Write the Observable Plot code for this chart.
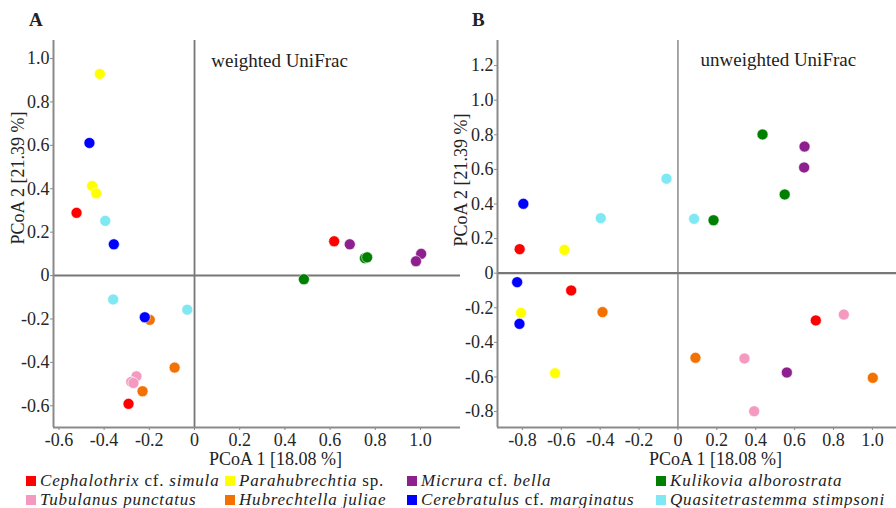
<!DOCTYPE html>
<html>
<head>
<meta charset="utf-8">
<script src="https://cdn.jsdelivr.net/npm/d3@7"></script>
<script src="https://cdn.jsdelivr.net/npm/@observablehq/plot@0.6"></script>
<style>
  html, body { margin: 0; padding: 0; background: #fff; }
  #fig { position: relative; width: 896px; height: 508px; overflow: hidden; background: #fff;
         font-family: "Liberation Serif", "DejaVu Serif", serif; color: #222; }
  .abs { position: absolute; white-space: nowrap; line-height: 14px; font-size: 18px; }
  .leg { font-size: 17px; letter-spacing: 0.8px; }
  .sw { position: absolute; width: 10px; height: 10px; }
  .panel { position: absolute; top: 0; }
</style>
</head>
<body>
<div id="fig"></div>
<script>
// ---------- data ----------
const speciesNames = [
  "Cephalothrix cf. simula", "Tubulanus punctatus", "Parahubrechtia sp.", "Hubrechtella juliae",
  "Micrura cf. bella", "Cerebratulus cf. marginatus", "Kulikovia alborostrata", "Quasitetrastemma stimpsoni"
];
const speciesColors = ["#ff0000", "#f49ac1", "#ffff00", "#f37100", "#8e1f8e", "#0000ff", "#007f00", "#80e8f2"];
// species index of each sample (same order in both panels)
const sampleGroup = [0,0,0, 1,1,1, 2,2,2, 3,3,3, 4,4,4, 5,5,5, 6,6,6, 7,7,7];

// Panel A: weighted UniFrac
const aPC1 = [-0.522, 0.618, -0.292,  -0.257, -0.280, -0.270,  -0.419, -0.453, -0.435,  -0.198, -0.088, -0.230,
               0.687, 1.003, 0.980,   -0.465, -0.357, -0.220,   0.484, 0.754, 0.764,   -0.395, -0.360, -0.032];
const aPC2 = [ 0.289, 0.158, -0.591,  -0.464, -0.490, -0.495,   0.929, 0.413, 0.379,  -0.204, -0.424, -0.533,
               0.144, 0.100, 0.066,    0.611, 0.144, -0.192,   -0.017, 0.080, 0.084,    0.252, -0.110, -0.157];
// Panel B: unweighted UniFrac
const bPC1 = [-0.814, -0.549, 0.709,   0.342, 0.392, 0.853,  -0.584, -0.807, -0.632,  -0.388, 0.090, 1.002,
               0.651, 0.649, 0.560,   -0.795, -0.827, -0.815,   0.435, 0.549, 0.183,   -0.059, -0.397, 0.083];
const bPC2 = [ 0.139, -0.100, -0.273, -0.493, -0.798, -0.239,  0.135, -0.229, -0.578,  -0.225, -0.489, -0.605,
               0.732, 0.611, -0.574,   0.401, -0.052, -0.293,   0.802, 0.455, 0.306,    0.546, 0.318, 0.314];

const aXTicks = [-0.6, -0.4, -0.2, 0, 0.2, 0.4, 0.6, 0.8, 1.0];
const aYTicks = [-0.6, -0.4, -0.2, 0, 0.2, 0.4, 0.6, 0.8, 1.0];
const bXTicks = [-0.8, -0.6, -0.4, -0.2, 0, 0.2, 0.4, 0.6, 0.8, 1.0];
const bYTicks = [-0.8, -0.6, -0.4, -0.2, 0, 0.2, 0.4, 0.6, 0.8, 1.0, 1.2];

const xTitle = "PCoA 1 [18.08 %]";
const yTitle = "PCoA 2 [21.39 %]";
const aNote = [{x: 0.074, y: 0.99, text: "weighted UniFrac"}];
const bNote = [{x: 0.116, y: 1.235, text: "unweighted UniFrac"}];

// ---------- helpers ----------
const fmt = d => Math.abs(d) < 1e-9 ? "0" : (d < 0 ? "-" : "") + Math.abs(d).toFixed(1);
const toRows = (xs, ys) => xs.map((x, i) => ({pc1: x, pc2: ys[i], species: speciesNames[sampleGroup[i]]}));
const axisGray = "#8a8a8a";

function panel({rows, xDomain, yDomain, xTicks, yTicks, note, width, marginLeft, marginRight, hz, vz}) {
  return Plot.plot({
    width, height: 470,
    marginLeft, marginRight, marginTop: 40, marginBottom: 43,
    style: {background: "transparent", fontFamily: "'Liberation Serif', 'DejaVu Serif', serif", fontSize: "18px", color: "#262626", overflow: "visible"},
    x: {domain: xDomain},
    y: {domain: yDomain},
    color: {domain: speciesNames, range: speciesColors},
    marks: [
      Plot.ruleX([0], {stroke: "#777", strokeWidth: vz}),
      Plot.ruleY([0], {stroke: "#777", strokeWidth: hz}),
      Plot.ruleX([xDomain[0]], {stroke: axisGray, strokeWidth: 2}),
      Plot.ruleY([yDomain[0]], {stroke: axisGray, strokeWidth: 2}),
      Plot.axisX({ticks: xTicks, tickFormat: fmt, tickSize: 3, tickPadding: 3, label: null, stroke: axisGray, fontSize: 18}),
      Plot.axisY({ticks: yTicks, tickFormat: fmt, tickSize: 3, tickPadding: 1, label: null, stroke: axisGray, fontSize: 18}),
      Plot.dot(rows, {x: "pc1", y: "pc2", fill: "species", r: 5.5, stroke: "white", strokeWidth: 0.6}),
      Plot.text(note, {x: "x", y: "y", text: "text", textAnchor: "start", fontSize: 19, fill: "#222"})
    ]
  });
}

const fig = document.getElementById("fig");

const plotA = panel({
  rows: toRows(aPC1, aPC2), xDomain: [-0.624, 1.177], yDomain: [-0.70, 1.083],
  xTicks: aXTicks, yTicks: aYTicks, note: aNote, width: 470, marginLeft: 53, marginRight: 10, hz: 2, vz: 1.8
});
const divA = document.createElement("div");
divA.className = "panel"; divA.style.left = "0px";
divA.appendChild(plotA);
fig.appendChild(divA);

const plotB = panel({
  rows: toRows(bPC1, bPC2), xDomain: [-0.928, 1.124], yDomain: [-0.892, 1.345],
  xTicks: bXTicks, yTicks: bYTicks, note: bNote, width: 456, marginLeft: 57, marginRight: 0, hz: 2.2, vz: 1.3
});
const divB = document.createElement("div");
divB.className = "panel"; divB.style.left = "440px";
divB.appendChild(plotB);
fig.appendChild(divB);

// ---------- text outside the SVGs ----------
function addText(html, left, top, extra = "", cls = "") {
  const d = document.createElement("div");
  d.className = "abs " + cls;
  d.style.left = left + "px";
  d.style.top = top + "px";
  d.style.cssText += extra;
  d.innerHTML = html;
  fig.appendChild(d);
  return d;
}
addText("A", 29, 13, "font-weight:bold;font-size:19px;");
addText("B", 472, 13, "font-weight:bold;font-size:19px;");
addText(xTitle, 209, 452);
addText(xTitle, 649, 452);
addText(yTitle, 18, 178, "transform:translate(-50%,-50%) rotate(-90deg);");
addText(yTitle, 461, 180, "transform:translate(-50%,-50%) rotate(-90deg);");

// ---------- legend ----------
const legendCols = [26, 225, 407, 656];
const legendRows = [476, 495];   // swatch tops
const fmtName = name => name.split(" ").map(w => (w === "cf." || w === "sp.") ? w : "<i>" + w + "</i>").join(" ");
speciesNames.forEach((name, i) => {
  const col = Math.floor(i / 2), row = i % 2;
  const sw = document.createElement("div");
  sw.className = "sw";
  sw.style.left = legendCols[col] + "px";
  sw.style.top = legendRows[row] + "px";
  sw.style.background = speciesColors[i];
  fig.appendChild(sw);
  addText(fmtName(name), legendCols[col] + 14, legendRows[row] - 2, "", "leg");
});
</script>
</body>
</html>
